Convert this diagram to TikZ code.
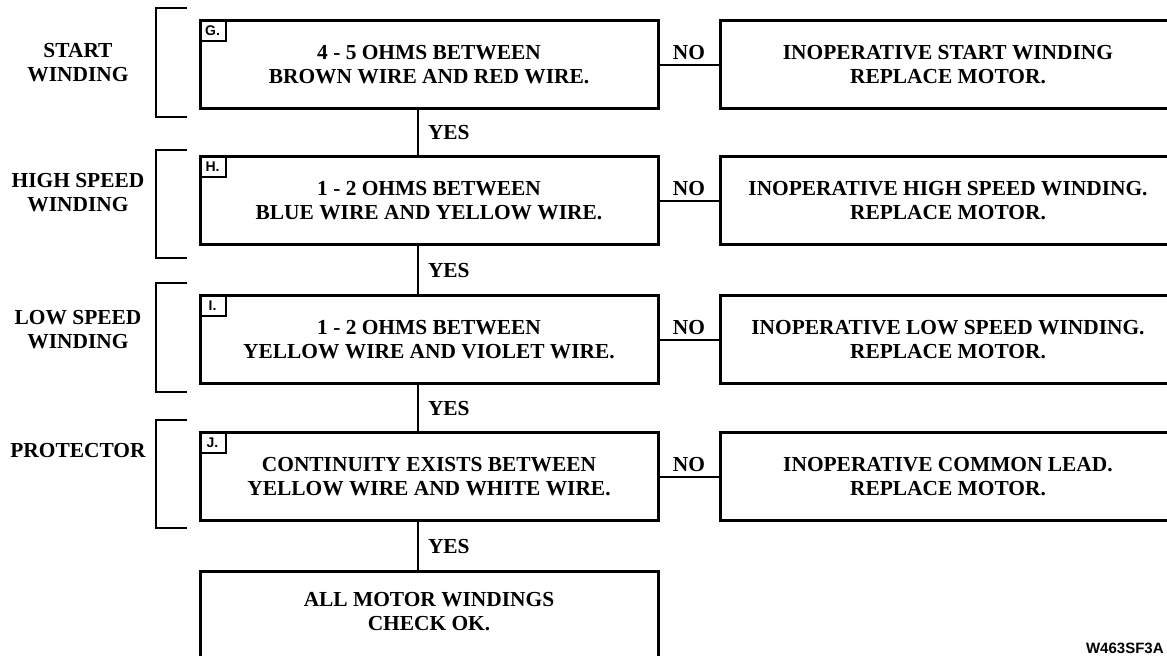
\documentclass[tikz,border=0pt]{standalone}
\usepackage{fontspec}
\setmainfont{Liberation Serif}
\setsansfont{Liberation Sans}
\usetikzlibrary{positioning}

\newcommand{\flowfont}{\bfseries\fontsize{10.7}{12}\selectfont}
\newcommand{\tagfont}{\sffamily\bfseries\fontsize{7}{8}\selectfont}

\begin{document}
\begin{tikzpicture}[
    x=0.5pt, y=-0.5pt,
    testbox/.style={
        rectangle,
        draw=black,
        line width=1.5pt,
        align=center,
        minimum width=229pt,
        minimum height=44pt,
        inner sep=0pt,
        font=\flowfont,
        execute at begin node=\rule{0pt}{11pt}
    },
    failbox/.style={
        testbox,
        minimum width=228pt
    },
    tagbox/.style={
        rectangle,
        draw=black,
        line width=1pt,
        anchor=north west,
        minimum width=13pt,
        minimum height=10.5pt,
        inner sep=1pt,
        font=\tagfont
    },
    sidelabel/.style={align=center, font=\flowfont},
    answer/.style={font=\flowfont, inner sep=2pt},
    link/.style={line width=1pt},
    bracket/.style={line width=1.2pt}
]

\useasboundingbox (0,0) rectangle (1167,656);
\coordinate (spine) at (418,0);

% test steps
\node[testbox] (stepG) at (429,65)
{4 - 5 OHMS BETWEEN\\BROWN WIRE AND RED WIRE.};

\node[testbox] (stepH) at (429,201)
{1 - 2 OHMS BETWEEN\\BLUE WIRE AND YELLOW WIRE.};

\node[testbox] (stepI) at (429,340)
{1 - 2 OHMS BETWEEN\\YELLOW WIRE AND VIOLET WIRE.};

\node[testbox] (stepJ) at (429,477)
{CONTINUITY EXISTS BETWEEN\\YELLOW WIRE AND WHITE WIRE.};

\node[testbox, anchor=north, minimum height=60pt,
    label={[font=\flowfont, align=center, yshift=10pt]center:{ALL MOTOR WINDINGS\\CHECK OK.}}]
    (allok) at (429,570) {};

% step letters
\node[tagbox] (tagG) at (stepG.north west) {G.};
\node[tagbox] (tagH) at (stepH.north west) {H.};
\node[tagbox] (tagI) at (stepI.north west) {I.};
\node[tagbox] (tagJ) at (stepJ.north west) {J.};

% failure results
\node[failbox] (failG) at (948,65)
{INOPERATIVE START WINDING\\REPLACE MOTOR.};

\node[failbox] (failH) at (948,201)
{INOPERATIVE HIGH SPEED WINDING.\\REPLACE MOTOR.};

\node[failbox] (failI) at (948,340)
{INOPERATIVE LOW SPEED WINDING.\\REPLACE MOTOR.};

\node[failbox] (failJ) at (948,477)
{INOPERATIVE COMMON LEAD.\\REPLACE MOTOR.};

% winding groups
\node[sidelabel] (lblG) at (78,63) {START\\WINDING};
\node[sidelabel] (lblH) at (78,193) {HIGH SPEED\\WINDING};
\node[sidelabel] (lblI) at (78,330) {LOW SPEED\\WINDING};
\node[sidelabel] (lblJ) at (78,451) {PROTECTOR};

\draw[bracket] (187,8) -| (156,117) -- (187,117);
\draw[bracket] (187,150) -| (156,258) -- (187,258);
\draw[bracket] (187,283) -| (156,392) -- (187,392);
\draw[bracket] (187,420) -| (156,528) -- (187,528);

\draw[link] (stepG.east) -- node[answer, above] {NO} (failG.west);
\draw[link] (stepH.east) -- node[answer, above] {NO} (failH.west);
\draw[link] (stepI.east) -- node[answer, above] {NO} (failI.west);
\draw[link] (stepJ.east) -- node[answer, above] {NO} (failJ.west);

\draw[link] (stepG.south -| spine) -- node[answer, right=2.5pt] {YES} (stepH.north -| spine);
\draw[link] (stepH.south -| spine) -- node[answer, right=2.5pt] {YES} (stepI.north -| spine);
\draw[link] (stepI.south -| spine) -- node[answer, right=2.5pt] {YES} (stepJ.north -| spine);
\draw[link] (stepJ.south -| spine) -- node[answer, right=2.5pt] {YES} (allok.north -| spine);

\node[font=\sffamily\bfseries\fontsize{7.5}{8}\selectfont, anchor=south east, inner sep=0pt]
    (figid) at (1164,654) {W463SF3A};

\end{tikzpicture}
\end{document}
